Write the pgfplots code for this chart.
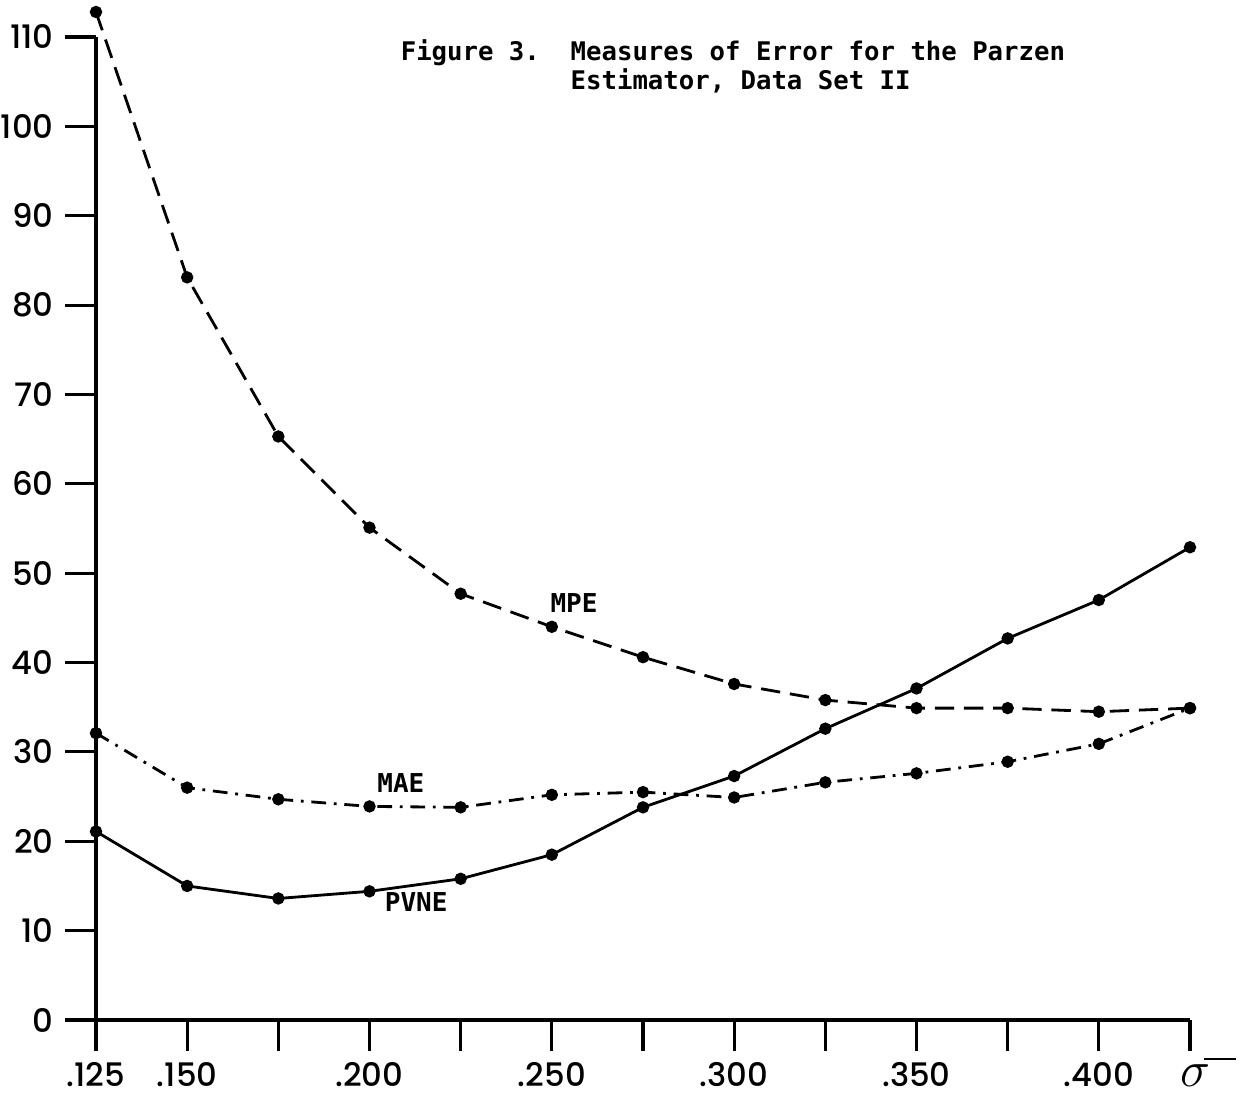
\documentclass[border=0pt]{standalone}
\usepackage{pgfplots}
\pgfplotsset{compat=1.18}
\usepackage{fontspec}
\newfontfamily\tickfont{Poppins}[UprightFont=* Medium]
\newfontfamily\typefont{DejaVu Sans Mono}

\begin{document}
\begin{tikzpicture}
\begin{axis}[
    scale only axis,
    width=109.4mm,
    height=98.3mm,
    xmin=0.125, xmax=0.425,
    ymin=0, ymax=110,
    axis lines*=left,
    axis line style={line width=0.9pt},
    tick style={line width=0.9pt, black},
    tick align=outside,
    major tick length=3.1mm,
    xtick={0.125,0.15,0.175,0.2,0.225,0.25,0.275,0.3,0.325,0.35,0.375,0.4,0.425},
    xticklabels={.125,.150,,.200,,.250,,.300,,.350,,.400,},
    ytick={0,10,20,30,40,50,60,70,80,90,100,110},
    yticklabels={0,10,20,30,40,50,60,70,80,90,100,110},
    ticklabel style={font=\tickfont\fontsize{9.2}{11}\selectfont},
    xticklabel style={yshift=0.1mm},
    yticklabel style={xshift=0.1mm},
    clip=false,
    every axis plot/.append style={line width=0.8pt, black, mark=*, mark size=1.35pt},
]
% MPE
\addplot[dash pattern=on 5.5pt off 2.8pt, mark options={solid}] coordinates {
    (0.125,112.8) (0.150,83.1) (0.175,65.3) (0.200,55.1) (0.225,47.7)
    (0.250,44.0) (0.275,40.6) (0.300,37.6) (0.325,35.8) (0.350,34.9)
    (0.375,34.9) (0.400,34.5) (0.425,34.9)
};
% MAE
\addplot[dash pattern=on 4.2pt off 2.2pt on 0.8pt off 2.2pt, mark options={solid}] coordinates {
    (0.125,32.1) (0.150,26.0) (0.175,24.7) (0.200,23.9) (0.225,23.8)
    (0.250,25.2) (0.275,25.5) (0.300,24.9) (0.325,26.6) (0.350,27.6)
    (0.375,28.9) (0.400,30.9) (0.425,34.9)
};
% PVNE
\addplot[solid] coordinates {
    (0.125,21.1) (0.150,15.0) (0.175,13.6) (0.200,14.4) (0.225,15.8)
    (0.250,18.5) (0.275,23.8) (0.300,27.3) (0.325,32.6) (0.350,37.1)
    (0.375,42.7) (0.400,47.0) (0.425,52.9)
};
\node[font=\typefont\bfseries\fontsize{7.4}{8}\selectfont] at (axis cs:0.2561,46.7) {MPE};
\node[font=\typefont\bfseries\fontsize{7.4}{8}\selectfont] at (axis cs:0.2086,26.5) {MAE};
\node[font=\typefont\bfseries\fontsize{7.4}{8}\selectfont] at (axis cs:0.2128,13.2) {PVNE};
\node[font=\tickfont\fontsize{15}{16}\selectfont, inner sep=0pt] at (axis cs:0.4300,-5.8) {$\sigma$\hspace{-0.2ex}\raisebox{0.9ex}{\rule{1.1ex}{0.7pt}}};
\node[font=\typefont\bfseries\fontsize{7.3}{8.2}\selectfont, anchor=north west, align=left, inner sep=0pt]
    at (axis cs:0.2084,109.8)
    {Figure 3.\ \ Measures of Error for the Parzen\\\phantom{Figure 3.\ \ }Estimator, Data Set II};
\coordinate (O) at (rel axis cs:0,0);
\end{axis}
\pgfresetboundingbox
\path[use as bounding box] (O) ++(-9.6mm,-7.9mm) rectangle ++(124.1mm,109.9mm);
\end{tikzpicture}
\end{document}
